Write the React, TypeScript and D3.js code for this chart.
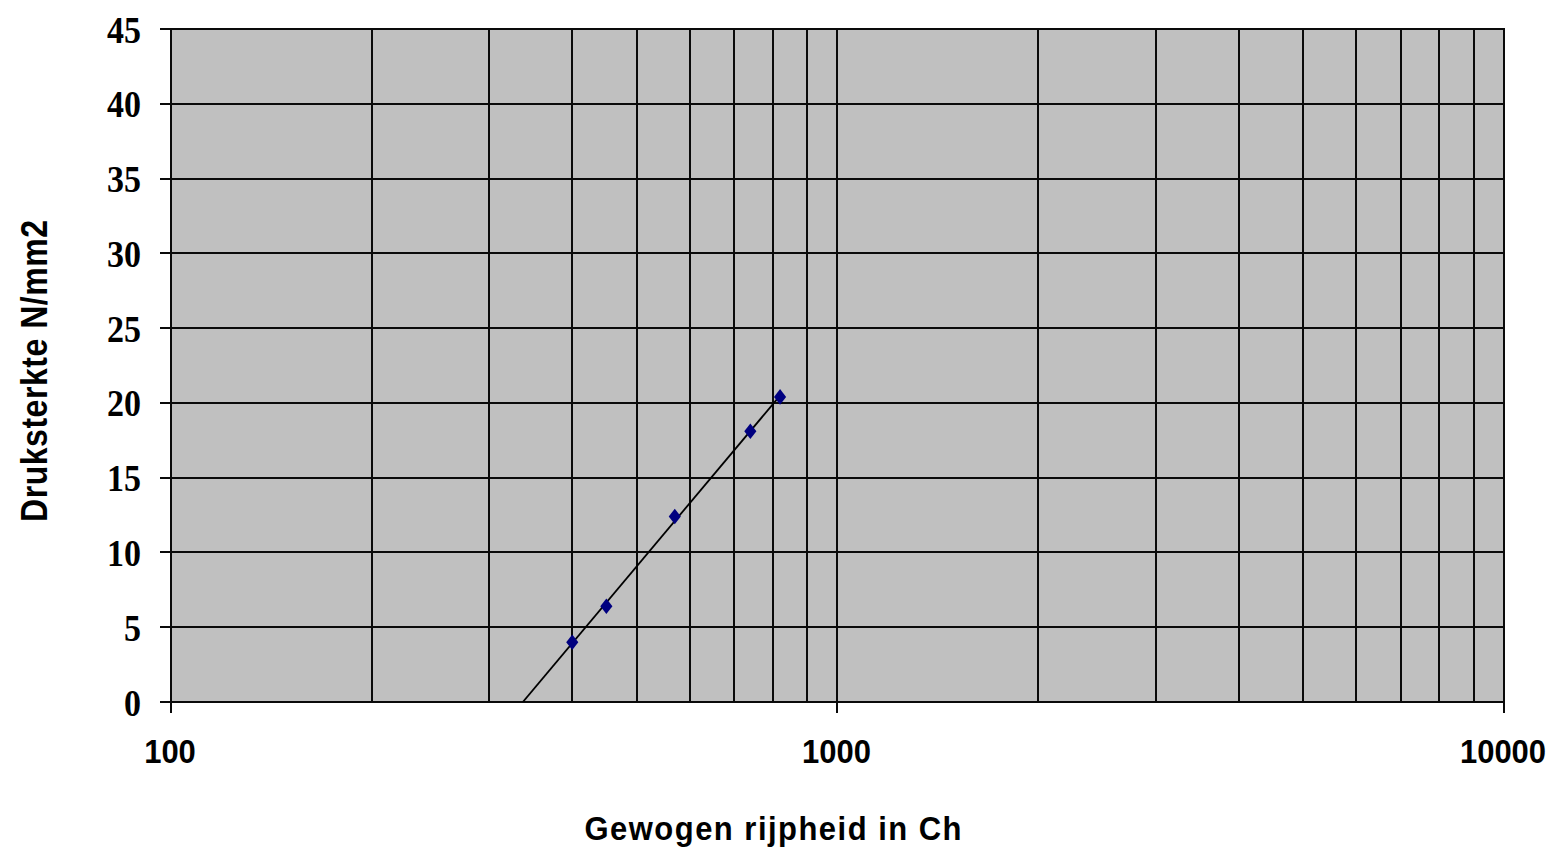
import { useEffect } from 'react';
import * as d3 from 'd3';

// Gewogen rijpheid (Ch) vs druksterkte (N/mm2)
const rijpheid = [400, 450, 570, 740, 820];
const druksterkte = [4.0, 6.4, 12.4, 18.1, 20.4];

const yTicks = [0, 5, 10, 15, 20, 25, 30, 35, 40, 45];
const xMajorTicks = [100, 1000, 10000];

const W = 1553;
const H = 848;
const plot = { left: 171, right: 1504, top: 29, bottom: 702 };
const stretch = 1.1;
const serif = '"Liberation Serif", "Times New Roman", serif';
const sans = '"Liberation Sans", Arial, sans-serif';

export default function App() {
  useEffect(() => {
    document.body.style.margin = '0';
  }, []);

  const x = d3.scaleLog().domain([100, 10000]).range([plot.left, plot.right]);
  const y = d3.scaleLinear().domain([0, 45]).range([plot.bottom, plot.top]);

  // logarithmic trendline (least squares on log10 x), as in the spreadsheet
  const lx = rijpheid.map(v => Math.log10(v));
  const mx = d3.mean(lx) || 0;
  const my = d3.mean(druksterkte) || 0;
  const sxy = d3.sum(lx, (v, i) => (v - mx) * (druksterkte[i] - my));
  const sxx = d3.sum(lx, v => (v - mx) * (v - mx));
  const slope = sxy / sxx;
  const icpt = my - slope * mx;
  const xStart = Math.pow(10, -icpt / slope);
  const xEnd = d3.max(rijpheid) || 1000;
  const trend = d3.line<number>()
    .x(v => x(v))
    .y(v => y(slope * Math.log10(v) + icpt));

  const gridX = x.ticks().filter(t => t > 100 && t < 10000);
  const marker = d3.symbol().type(d3.symbolDiamond).size(70)();

  return (
    <div style={{ position: 'absolute', left: 0, top: 0 }}>
      <svg width={W} height={H} style={{ display: 'block', background: '#fff' }}>
        <defs>
          <clipPath id="plotClip">
            <rect x={plot.left} y={plot.top} width={plot.right - plot.left} height={plot.bottom - plot.top} />
          </clipPath>
        </defs>
        <rect x={plot.left} y={plot.top} width={plot.right - plot.left} height={plot.bottom - plot.top} fill="#c0c0c0" />

        {/* grid */}
        <g shapeRendering="crispEdges" stroke="#0a0a0a" strokeWidth={2}>
          {yTicks.map(t => (
            <line key={'gy' + t} x1={plot.left} x2={plot.right} y1={Math.round(y(t))} y2={Math.round(y(t))} />
          ))}
          {gridX.map(t => (
            <line key={'gx' + t} x1={Math.round(x(t))} x2={Math.round(x(t))} y1={plot.top} y2={plot.bottom} />
          ))}
          <rect x={plot.left} y={plot.top} width={plot.right - plot.left} height={plot.bottom - plot.top} fill="none" />
        </g>

        {/* trendline */}
        <path
          d={trend([xStart, xEnd]) || ''}
          fill="none"
          stroke="#000"
          strokeWidth={1.8}
          clipPath="url(#plotClip)"
        />

        {/* points */}
        {rijpheid.map((v, i) => (
          <path
            key={'p' + i}
            d={marker || ''}
            transform={`translate(${x(v)},${y(druksterkte[i])}) scale(1.35,1)`}
            fill="#000080"
          />
        ))}

        {/* y axis */}
        {yTicks.map(t => (
          <g key={'ty' + t}>
            <line x1={plot.left - 11} x2={plot.left} y1={Math.round(y(t))} y2={Math.round(y(t))} stroke="#0a0a0a" strokeWidth={2} shapeRendering="crispEdges" />
            <text
              transform={`translate(141,${y(t) + 13.5}) scale(1,${stretch})`}
              textAnchor="end"
              fontFamily={serif}
              fontWeight="bold"
              fontSize={34}
              fill="#000"
            >
              {t}
            </text>
          </g>
        ))}

        {/* x axis */}
        {xMajorTicks.map(t => (
          <g key={'tx' + t}>
            <line x1={Math.round(x(t))} x2={Math.round(x(t))} y1={plot.bottom} y2={plot.bottom + 11} stroke="#0a0a0a" strokeWidth={2} shapeRendering="crispEdges" />
            <text
              transform={`translate(${x(t) - 1},763) scale(1,${stretch})`}
              textAnchor="middle"
              fontFamily={sans}
              fontWeight="bold"
              fontSize={31}
              fill="#000"
            >
              {t}
            </text>
          </g>
        ))}

        <text
          transform={`translate(773,840) scale(1,${stretch})`}
          textAnchor="middle"
          fontFamily={sans}
          fontWeight="bold"
          fontSize={31}
          textLength={377}
          lengthAdjust="spacing"
          fill="#000"
        >
          Gewogen rijpheid in Ch
        </text>

        <text
          transform={`translate(47,371) rotate(-90) scale(1,1.15)`}
          textAnchor="middle"
          fontFamily={sans}
          fontWeight="bold"
          fontSize={32}
          textLength={302}
          lengthAdjust="spacing"
          fill="#000"
        >
          Druksterkte N/mm2
        </text>
      </svg>
    </div>
  );
}
